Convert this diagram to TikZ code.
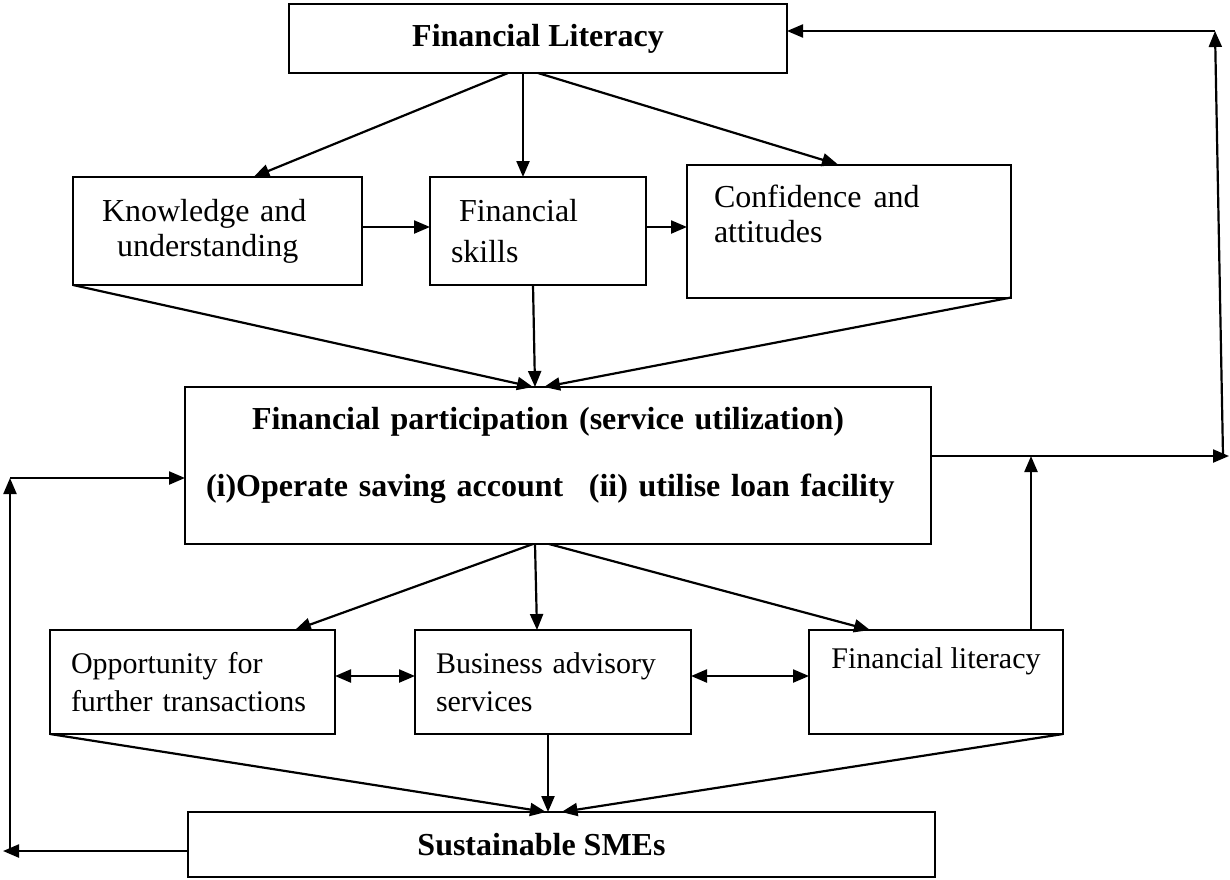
\documentclass[tikz,border=0pt]{standalone}
\usepackage{fontspec}
\setmainfont{Liberation Serif}
\usetikzlibrary{positioning,arrows.meta}

\begin{document}
\begin{tikzpicture}[
    x=0.5pt, y=-0.5pt,
    box/.style={
        draw,
        rectangle,
        line width=1pt,
        outer sep=0pt,
        font=\fontsize{16}{17.5}\selectfont
    },
    bold/.style={font=\fontsize{16}{17.5}\selectfont\bfseries},
    small/.style={font=\fontsize{15}{19}\selectfont},
    arrow/.style={-{Triangle[length=8pt,width=6.5pt]}, line width=1.1pt},
    twoway/.style={{Triangle[length=8pt,width=6.5pt]}-{Triangle[length=8pt,width=6.5pt]}, line width=1.1pt}
]

\useasboundingbox (0,0) rectangle (1230,879);

\node[box, bold, minimum width=249pt, minimum height=34.5pt] (flit) at (538,38.5) {Financial Literacy};

\node[box, minimum width=108pt, minimum height=54pt, text width=87pt, inner xsep=10.5pt,
    align=left, below=52pt of flit] (skills) {
\hspace*{4pt}Financial\\[3pt]
skills
};

\node[box, minimum width=144.5pt, minimum height=54pt, text width=115.5pt, inner xsep=14.5pt,
    align=left, left=34pt of skills] (know) {
Knowledge and\\
\hspace*{7.5pt}understanding
};

\node[box, minimum width=162pt, minimum height=66.5pt, text width=135pt, inner xsep=13.5pt,
    align=left, right=20.5pt of skills] (conf) {
Confidence\hspace{6pt}and\\
attitudes\\
\mbox{}
};

\node[box, bold, minimum width=373pt, minimum height=78.5pt, text width=352pt, inner xsep=10.5pt,
    align=left, below=51pt of skills, xshift=10pt] (part) {
\hspace*{23pt}Financial participation (service utilization)\\[16pt]
(i)Operate saving account\hspace{0.8em}(ii) utilise loan facility\\[-4pt]
\mbox{}
};

\node[box, small, minimum width=138pt, minimum height=52pt, text width=117pt, inner xsep=10.5pt,
    align=left, below=43pt of part, xshift=-2.5pt] (bus) {
Business advisory\\
services
};

\node[box, small, minimum width=142.5pt, minimum height=52pt, text width=121.5pt, inner xsep=10.5pt,
    align=left, left=40pt of bus] (opp) {
Opportunity for\\
further transactions
};

\node[box, small, minimum width=127pt, minimum height=52pt, align=left, right=59pt of bus] (finlit) {
Financial literacy\\[5pt]
\mbox{}
};

\node[box, bold, minimum width=373.5pt, minimum height=32.5pt, below=39pt of bus, xshift=4.25pt] (sme) {
Sustainable SMEs\hspace*{20pt}
};

\coordinate (rgt) at (1229,456);
\coordinate (rgtbot) at (1223,456);
\coordinate (rgttop) at (1215,31);
\coordinate (lft) at (10,478);
\coordinate (lftbot) at (10,851);
\coordinate (lfttip) at (3,851);

\draw[arrow] ([xshift=-15pt]flit.south) -- ([xshift=18pt]know.north);
\draw[arrow] ([xshift=-7.5pt]flit.south) -- ([xshift=-7.5pt]skills.north);
\draw[arrow] (flit.south) -- ([xshift=-5.5pt]conf.north);
\draw[arrow] ([yshift=2pt]know.east) -- ([yshift=2pt]know.east -| skills.west);
\draw[arrow] ([yshift=2pt]skills.east) -- ([yshift=2pt]skills.east -| conf.west);
\draw[arrow] (know.south west) -- ([xshift=-12.5pt]part.north);
\draw[arrow] ([xshift=-2.5pt]skills.south) -- ([xshift=-11.5pt]part.north);
\draw[arrow] (conf.south east) -- ([xshift=-7pt]part.north);

\draw[arrow] ([yshift=4.75pt]part.east) -- (rgt);
\draw[arrow] (rgtbot) -- (rgttop);
\draw[arrow] (rgttop) -- ([yshift=3.75pt]flit.east);
\draw[arrow] ([xshift=47.5pt]finlit.north) -- ([xshift=47.5pt]finlit.north |- rgt);

\draw[arrow] ([yshift=-3.25pt]sme.west) -- (lfttip);
\draw[arrow] (lftbot) -- (lft);
\draw[arrow] (lft) -- ([yshift=-6.25pt]part.west);

\draw[arrow] ([xshift=-12.5pt]part.south) -- ([xshift=51.25pt]opp.north);
\draw[arrow] ([xshift=-11.5pt]part.south) -- ([xshift=-8pt]bus.north);
\draw[arrow] ([xshift=-4.5pt]part.south) -- ([xshift=-33pt]finlit.north);
\draw[twoway] ([yshift=3pt]opp.east) -- ([yshift=3pt]opp.east -| bus.west);
\draw[twoway] ([yshift=3pt]bus.east) -- ([yshift=3pt]bus.east -| finlit.west);
\draw[arrow] (opp.south west) -- ([xshift=-7.75pt]sme.north);
\draw[arrow] ([xshift=-2.5pt]bus.south) -- ([xshift=-6.75pt]sme.north);
\draw[arrow] (finlit.south east) -- (sme.north);

\end{tikzpicture}
\end{document}
